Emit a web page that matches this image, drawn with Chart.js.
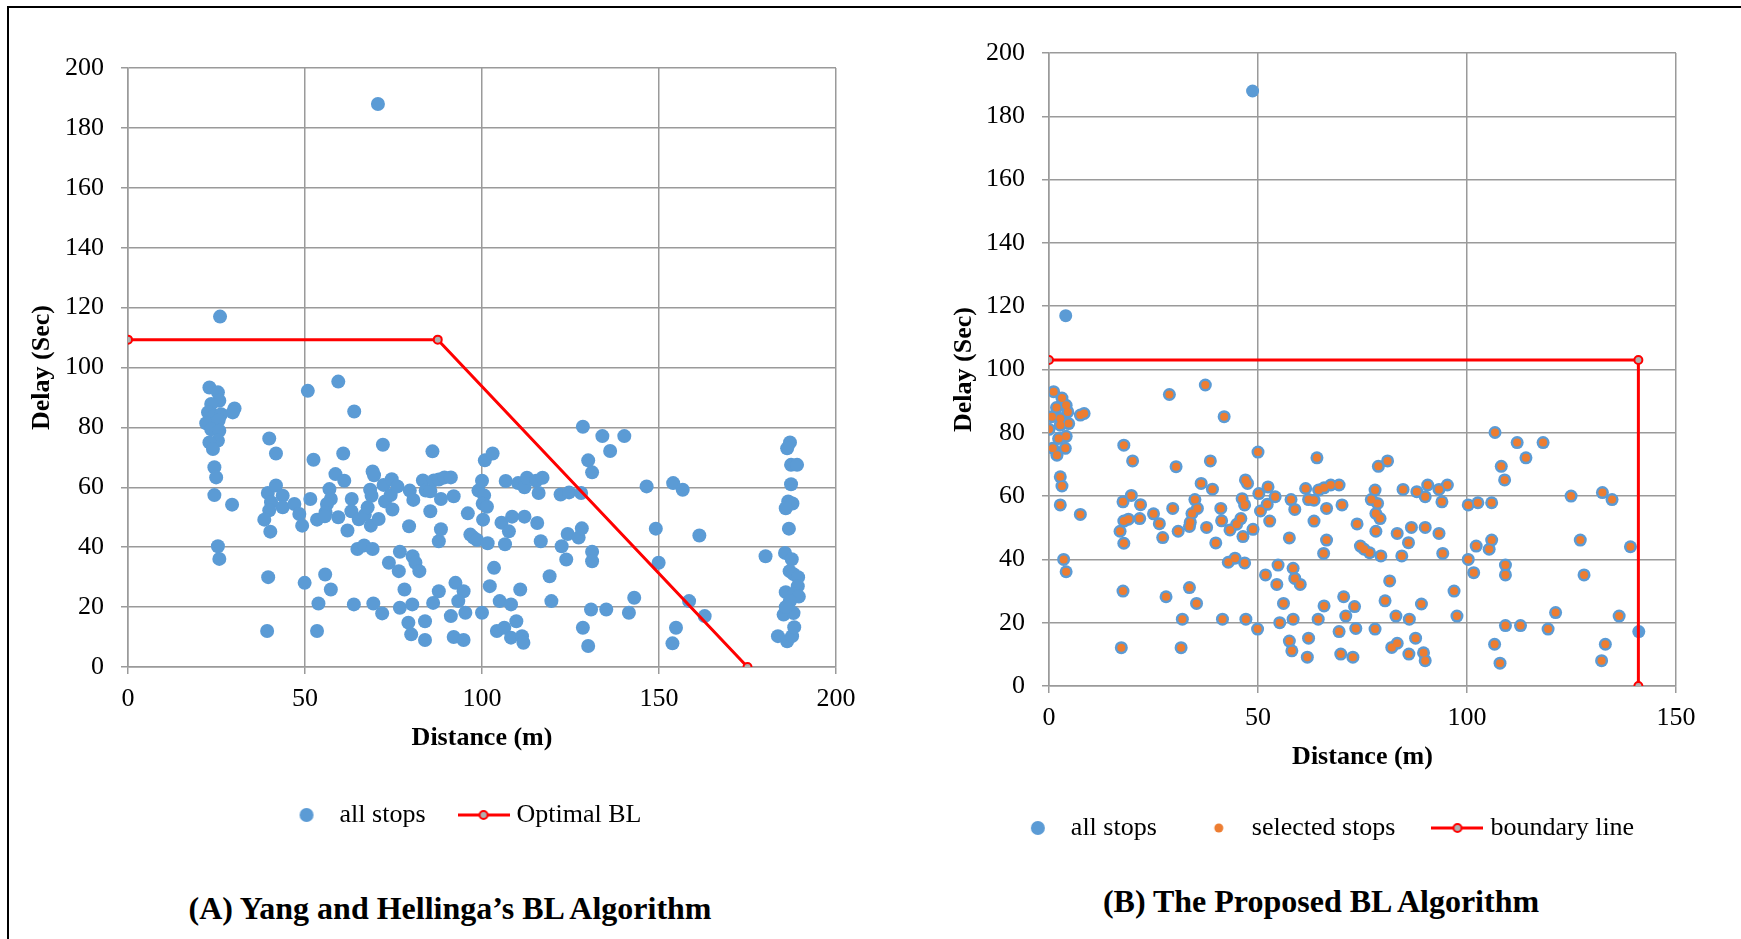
<!DOCTYPE html>
<html>
<head>
<meta charset="utf-8">
<script src="https://cdn.jsdelivr.net/npm/chart.js@4.4.1/dist/chart.umd.min.js"></script>
<style>
    html, body { margin: 0; padding: 0; background: #fff; }
    body { width: 1741px; height: 939px; position: relative; overflow: hidden; }
    .frame { position: absolute; left: 7px; top: 6px; width: 1760px; height: 960px;
             border-left: 2px solid #000; border-top: 2px solid #000; }
    canvas { position: absolute; top: 0; }
    .caption { position: absolute; transform: translateX(-50%); white-space: nowrap;
               font: bold 32px "Liberation Serif", "Times New Roman", serif; line-height: 32px; color: #000; }
</style>
</head>
<body>
<div class="frame"></div>
<canvas id="chart-a" width="870" height="838" style="left:0"></canvas>
<canvas id="chart-b" width="871" height="851" style="left:870px"></canvas>
<div class="caption" style="left:450px; top:892px">(A) Yang and Hellinga’s BL Algorithm</div>
<div class="caption" style="left:1321px; top:885px">(B) The Proposed BL Algorithm</div>

<script>
// (A) every stop: distance (m) and delay (s)
const distA = [
    70.6, 26, 23, 25.4, 25.8, 23.5, 22.6, 24.4, 26.3, 30.1,
    29.6, 22.1, 25.6, 23.5, 25.8, 25.4, 23, 24, 24.4, 24.9,
    24.4, 29.4, 25.4, 25.8, 39.9, 41.8, 50.8, 59.4, 63.9, 52.4,
    60.8, 72, 86, 100.8, 103, 128.5, 134, 140.2, 136.2, 130,
    131.1, 39.5, 41.8, 43.7, 40.4, 39.9, 43.7, 47, 48.4, 38.5,
    40.2, 49.2, 51.5, 53.4, 56.9, 57.3, 56.2, 55.8, 55.6, 58.6,
    61.1, 59.4, 62, 63.2, 63.1, 65.2, 66.9, 67.7, 68.4, 69.1,
    69.5, 68.8, 68.6, 70.8, 64.8, 66.7, 69.1, 72.2, 72.6, 74.5,
    74.2, 74.7, 76.1, 73.7, 76.8, 76.5, 79.4, 79.6, 80.6, 80.4,
    81.2, 82.3, 83.3, 84.1, 85.4, 85.4, 86.4, 87.8, 88.4, 89.4,
    91.2, 92, 87.8, 88.4, 96, 96.7, 97.6, 98.6, 101.6, 99,
    100, 100.6, 100.2, 101.4, 100.3, 105.5, 106.7, 107.6, 106.5, 108.5,
    110.2, 112, 112.7, 112, 115.3, 116, 117.1, 115.6, 116.6, 122.2,
    124.6, 128, 124.2, 127.3, 128.2, 122.5, 123.8, 131.1, 131.1, 146.5,
    154, 156.7, 149.1, 149.9, 161.4, 119.1, 119.6, 103.4, 102.2, 105,
    108.2, 109.7, 110.8, 104.2, 106.3, 108.2, 111.3, 111.7, 92.5, 94.8,
    93.3, 95.3, 100, 91.2, 92, 94.8, 87.8, 86.2, 83.9, 83.9,
    78.1, 76.8, 80.3, 79.2, 80, 69.3, 71.8, 63.8, 39.6, 49.9,
    55.7, 57.3, 53.8, 39.3, 53.4, 128.5, 130, 130.8, 135.1, 141.5,
    143, 153.8, 154.8, 158.5, 162.9, 187, 186.2, 187.3, 189, 187.3,
    186.5, 187.7, 185.8, 186.7, 185.6, 187.5, 186.9, 188, 189.3, 185.8,
    189.2, 188.2, 189.5, 187, 185.2, 188, 183.6, 186.2, 187.6, 188.2,
    180.1, 185.8
];
const delayA = [
    188, 117, 93.3, 91.7, 88.9, 87.8, 85, 83.9, 84.4, 86.3,
    85, 81.4, 82.4, 79.4, 78.9, 75.6, 75, 72.8, 66.7, 63.3,
    57.4, 54.2, 40.3, 36.1, 76.3, 71.3, 92.2, 95.3, 85.3, 69.2,
    71.3, 74.2, 72, 69, 71.3, 80.2, 77.1, 77.1, 72.1, 69,
    65, 58.1, 60.6, 57.2, 55, 52.3, 53.3, 54.4, 51.1, 49.2,
    45.2, 47.2, 56.1, 49.2, 59.4, 56.1, 54.4, 51.6, 50.3, 64.4,
    62.2, 50, 45.6, 56.1, 52, 49.3, 50.8, 53.3, 59.2, 65.3,
    64, 57.2, 47.2, 49.4, 39.4, 40.6, 39.4, 60.8, 55.3, 62.7,
    57.4, 52.6, 60.3, 34.8, 38.5, 32, 47, 58.9, 55.8, 37,
    34.8, 32, 62.3, 58.9, 58.7, 52, 62.3, 62.6, 56.1, 63.3,
    63.3, 57, 42, 46, 51.3, 44.2, 43.2, 42.4, 41.3, 58.9,
    62.2, 57.3, 54.5, 53.5, 49.2, 48.2, 62.1, 45.3, 41, 50.2,
    61.4, 60, 63.2, 50.2, 62.2, 58.1, 63.2, 48.1, 42, 57.6,
    58.3, 58.1, 44.4, 43.2, 46.3, 40.3, 35.9, 38.5, 35.3, 60.3,
    61.4, 59.2, 46.2, 34.8, 43.9, 30.3, 22, 33.1, 27, 22,
    20.9, 15.3, 25.9, 12, 13.1, 9.8, 10.3, 8.1, 28.1, 25.3,
    22, 18.1, 18.1, 17, 10, 9, 25.3, 21.4, 15.3, 9,
    25.9, 19.8, 20.9, 14.8, 10.9, 21.2, 17.9, 20.9, 30, 28.1,
    30.9, 25.9, 21.2, 12, 12, 13.1, 7, 19.2, 19.2, 18.1,
    23.1, 7.9, 13.1, 22, 17, 75, 73, 67.5, 67.5, 61,
    55.3, 54.6, 53, 46.2, 38.1, 36, 32, 31, 30, 25,
    27, 24.4, 23.5, 22, 17.5, 18, 10.3, 8.6, 10.3, 13.3,
    37, 20
];
// (A) optimal boundary line vertices
const optimalDist = [0, 87.5, 175];
const optimalDelay = [109.3, 109.3, 0];

// (B) every stop, distance measured from the new origin
const distB = [
    48.7, 4, 1.1, 3.1, 4.1, 1.8, 0.7, 2.7, 4.5, 2.7,
    4.7, 0, 7.5, 8.4, 2.3, 4.1, 0.9, 1.9, 3.9, 2.7,
    3.1, 2.7, 7.5, 3.5, 4.1, 17.9, 20, 28.8, 37.4, 41.9,
    30.4, 38.6, 50, 64.1, 78.8, 81, 106.7, 112, 118.2, 114.1,
    108.2, 109, 17.7, 19.7, 21.9, 17.9, 19, 21.7, 17, 17.9,
    25, 26.4, 27.2, 29.6, 30.9, 34.9, 35.5, 34.2, 33.8, 33.6,
    36.4, 39.1, 37.7, 39.9, 41.1, 41.3, 43.3, 44.9, 45.9, 46.2,
    47, 47.5, 46.8, 46.4, 48.8, 42.9, 44.5, 46.8, 50.2, 50.6,
    52.4, 52.2, 52.8, 54.1, 51.8, 54.8, 54.5, 57.5, 57.9, 58.8,
    58.4, 58.8, 60.1, 61.4, 62.1, 63.4, 63.4, 64.5, 65.8, 66.4,
    67.4, 69.4, 70.1, 65.7, 66.4, 73.7, 74.5, 75.4, 76.7, 79.4,
    77.1, 78, 78.6, 78.2, 79.2, 78.2, 83.3, 84.7, 86, 84.4,
    86.7, 88, 90, 90.6, 90, 93.3, 94, 95.3, 93.3, 94.2,
    100.3, 102.6, 105.9, 102.2, 105.3, 105.9, 100.3, 101.6, 109.2, 109.2,
    124.9, 132.4, 134.7, 127.1, 128, 139.1, 96.9, 97.6, 81.5, 80.4,
    83, 86.2, 87.7, 89.1, 82, 83.3, 86.1, 89.6, 90, 70.5,
    73.1, 71, 73.4, 78, 69.4, 69.8, 72.7, 65.8, 64.4, 62.1,
    61.8, 56.1, 55.2, 58.4, 57.5, 58.1, 47.1, 49.9, 41.5, 17.7,
    28, 33.6, 35.3, 31.9, 17.3, 31.6, 106.6, 107.9, 109.2, 112.8,
    119.4, 121.2, 132.2, 133.1, 136.4, 141.1
];
const delayB = [
    188, 117, 93, 91, 88.7, 88, 85.1, 84.5, 86.6, 82.4,
    82.9, 81.1, 85.6, 86.1, 78.2, 78.9, 75.1, 72.9, 75.1, 66.1,
    63.2, 57.2, 54.2, 40, 36.1, 76.1, 71.1, 92.1, 95.1, 85.1,
    69.3, 71.1, 73.9, 72.1, 69.4, 71.1, 80.1, 76.9, 76.9, 72.1,
    69.4, 65.1, 58.2, 60.2, 57.3, 52.1, 52.7, 52.9, 48.9, 45.1,
    54.4, 51.3, 46.9, 56.1, 48.9, 58.9, 56.1, 54.5, 51.7, 50.4,
    64, 62.2, 50.1, 45.2, 56.1, 52.2, 49.3, 51.1, 52.9, 59.2,
    65.1, 64, 57.2, 47.2, 49.5, 39.1, 40.4, 38.9, 60.8, 55.3,
    62.9, 57.4, 52.1, 59.8, 35.1, 38.2, 32.1, 46.8, 58.9, 55.8,
    37.2, 34, 32.1, 62.4, 58.9, 58.7, 52.1, 61.9, 62.6, 56.1,
    63.5, 63.5, 57.2, 41.9, 46.1, 51.2, 44.2, 43.2, 42.1, 41.1,
    58.9, 61.9, 57.7, 54.5, 52.9, 48.9, 48.2, 62.1, 45.3, 41.1,
    50.1, 61.4, 59.8, 63.5, 50.1, 62.1, 58.2, 63.5, 48.2, 41.9,
    57.2, 57.9, 57.9, 44.2, 43.2, 46.1, 40, 35.8, 38.2, 35.1,
    60, 61.1, 58.9, 46.1, 35.1, 44, 30, 22.1, 33.2, 26.9,
    22.1, 21.1, 15.1, 25.9, 12.2, 13.5, 10.1, 10.5, 8, 28.2,
    25.1, 22.1, 18.2, 18, 17.2, 10.1, 9.1, 25.3, 21.1, 15.1,
    9.1, 26.1, 20, 21.1, 14.2, 11.1, 21.1, 18, 21.1, 30,
    28.2, 31.1, 26.1, 21.1, 12.1, 12.1, 13.2, 7.2, 19.1, 19.1,
    18, 23.2, 8, 13.2, 22.1, 17.2
];
// (B) proposed boundary line vertices
const boundaryDist = [0, 141, 141];
const boundaryDelay = [103, 103, 0];

const xTicksA = [0, 50, 100, 150, 200];
const xTicksB = [0, 50, 100, 150];
const yTicks = [0, 20, 40, 60, 80, 100, 120, 140, 160, 180, 200];

const BLUE = "#5B9BD5";
const ORANGE = "#ED7D31";
const RED = "#FF0000";
const MARKER_FILL = "#B0B0B0";
const GRID = "#9A9A9A";
const SERIF = "'Liberation Serif', 'Times New Roman', serif";

Chart.defaults.font.family = SERIF;
Chart.defaults.color = "#000";

const toPoints = (xs, ys) => xs.map((x, i) => ({ x, y: ys[i] }));

// stops that fall inside the proposed boundary
const selectedB = toPoints(distB, delayB).filter(
    (p) => p.y <= boundaryDelay[0] && p.x <= boundaryDist[1]
);

// small canvases used as legend symbols
function dotIcon(r, color) {
    const c = document.createElement("canvas");
    c.width = c.height = Math.ceil(r) * 2 + 2;
    const g = c.getContext("2d");
    g.fillStyle = color;
    g.beginPath();
    g.arc(c.width / 2, c.height / 2, r, 0, Math.PI * 2);
    g.fill();
    return c;
}

function lineIcon(w) {
    const c = document.createElement("canvas");
    c.width = w;
    c.height = 14;
    const g = c.getContext("2d");
    g.strokeStyle = RED;
    g.lineWidth = 3;
    g.beginPath();
    g.moveTo(0, 7);
    g.lineTo(w, 7);
    g.stroke();
    g.fillStyle = MARKER_FILL;
    g.lineWidth = 2;
    g.beginPath();
    g.arc(w / 2, 7, 4, 0, Math.PI * 2);
    g.fill();
    g.stroke();
    return c;
}

// moves the legend row sideways after layout
const legendNudge = {
    id: "legendNudge",
    afterLayout(chart, args, opts) {
        const lg = chart.legend;
        if (!lg || !opts.dx) return;
        lg.left += opts.dx;
        lg.right += opts.dx;
    },
};

function makeScales(xMax, xTicks, yWidth, yTitlePad, xHeight, xTitlePad) {
    const grid = { color: GRID, lineWidth: 1.5, tickLength: 7, tickColor: GRID };
    const border = { color: GRID, width: 1.5 };
    return {
        x: {
            type: "linear",
            min: 0,
            max: xMax,
            afterBuildTicks: (s) => { s.ticks = xTicks.map((v) => ({ value: v })); },
            ticks: { padding: 10, maxRotation: 0, autoSkip: false, font: { size: 26 }, color: "#000" },
            grid,
            border,
            title: {
                display: true,
                text: "Distance (m)",
                color: "#000",
                font: { size: 26, weight: "bold" },
                padding: { top: 0, bottom: xTitlePad },
            },
            afterFit: (s) => { s.height = xHeight; },
        },
        y: {
            type: "linear",
            min: 0,
            max: 200,
            afterBuildTicks: (s) => { s.ticks = yTicks.map((v) => ({ value: v })); },
            ticks: { padding: 17, autoSkip: false, font: { size: 26 }, color: "#000" },
            grid,
            border,
            title: {
                display: true,
                text: "Delay (Sec)",
                color: "#000",
                font: { size: 26, weight: "bold" },
                padding: { top: yTitlePad, bottom: 0 },
            },
            afterFit: (s) => { s.width = yWidth; },
        },
    };
}

function legendOptions(icons, gap, dx, fullSize) {
    return {
        legend: {
            position: "bottom",
            fullSize,
            labels: {
                usePointStyle: true,
                pointStyleWidth: 40,
                padding: gap,
                color: "#000",
                font: { size: 26 },
                generateLabels: (chart) =>
                    chart.data.datasets.map((ds, i) => ({
                        text: ds.label,
                        pointStyle: icons[i],
                        fillStyle: "rgba(0,0,0,0)",
                        strokeStyle: "rgba(0,0,0,0)",
                        lineWidth: 0,
                        hidden: false,
                        datasetIndex: i,
                    })),
            },
        },
        legendNudge: { dx },
        tooltip: { enabled: false },
    };
}

// (A) Yang and Hellinga
new Chart(document.getElementById("chart-a"), {
    type: "scatter",
    data: {
        datasets: [
            {
                label: "all stops",
                data: toPoints(distA, delayA),
                pointRadius: 7,
                pointBorderWidth: 0,
                pointBackgroundColor: BLUE,
                order: 2,
            },
            {
                label: "Optimal BL",
                data: toPoints(optimalDist, optimalDelay),
                showLine: true,
                borderColor: RED,
                borderWidth: 3,
                pointRadius: 4,
                pointBorderWidth: 2,
                pointBorderColor: RED,
                pointBackgroundColor: MARKER_FILL,
                order: 1,
            },
        ],
    },
    options: {
        responsive: false,
        animation: false,
        layout: { padding: { left: 0, top: 68, right: 34, bottom: 0 } },
        scales: makeScales(200, xTicksA, 128, 27, 97, 10),
        plugins: legendOptions([dotIcon(7, BLUE), lineIcon(52)], 38, -18, false),
    },
    plugins: [legendNudge],
});

// (B) proposed algorithm
new Chart(document.getElementById("chart-b"), {
    type: "scatter",
    data: {
        datasets: [
            {
                label: "all stops",
                data: toPoints(distB, delayB),
                pointRadius: 6.5,
                pointBorderWidth: 0,
                pointBackgroundColor: BLUE,
                order: 3,
            },
            {
                label: "selected stops",
                data: selectedB,
                pointRadius: 4,
                pointBorderWidth: 0,
                pointBackgroundColor: ORANGE,
                order: 2,
            },
            {
                label: "boundary line",
                data: toPoints(boundaryDist, boundaryDelay),
                showLine: true,
                borderColor: RED,
                borderWidth: 3,
                pointRadius: 4,
                pointBorderWidth: 2,
                pointBorderColor: RED,
                pointBackgroundColor: MARKER_FILL,
                order: 1,
            },
        ],
    },
    options: {
        responsive: false,
        animation: false,
        layout: { padding: { left: 0, top: 53, right: 65, bottom: 0 } },
        scales: makeScales(150, xTicksB, 179, 79, 87, 0),
        plugins: legendOptions([dotIcon(7, BLUE), dotIcon(4.5, ORANGE), lineIcon(52)], 42, 53, true),
    },
    plugins: [legendNudge],
});
</script>
</body>
</html>
